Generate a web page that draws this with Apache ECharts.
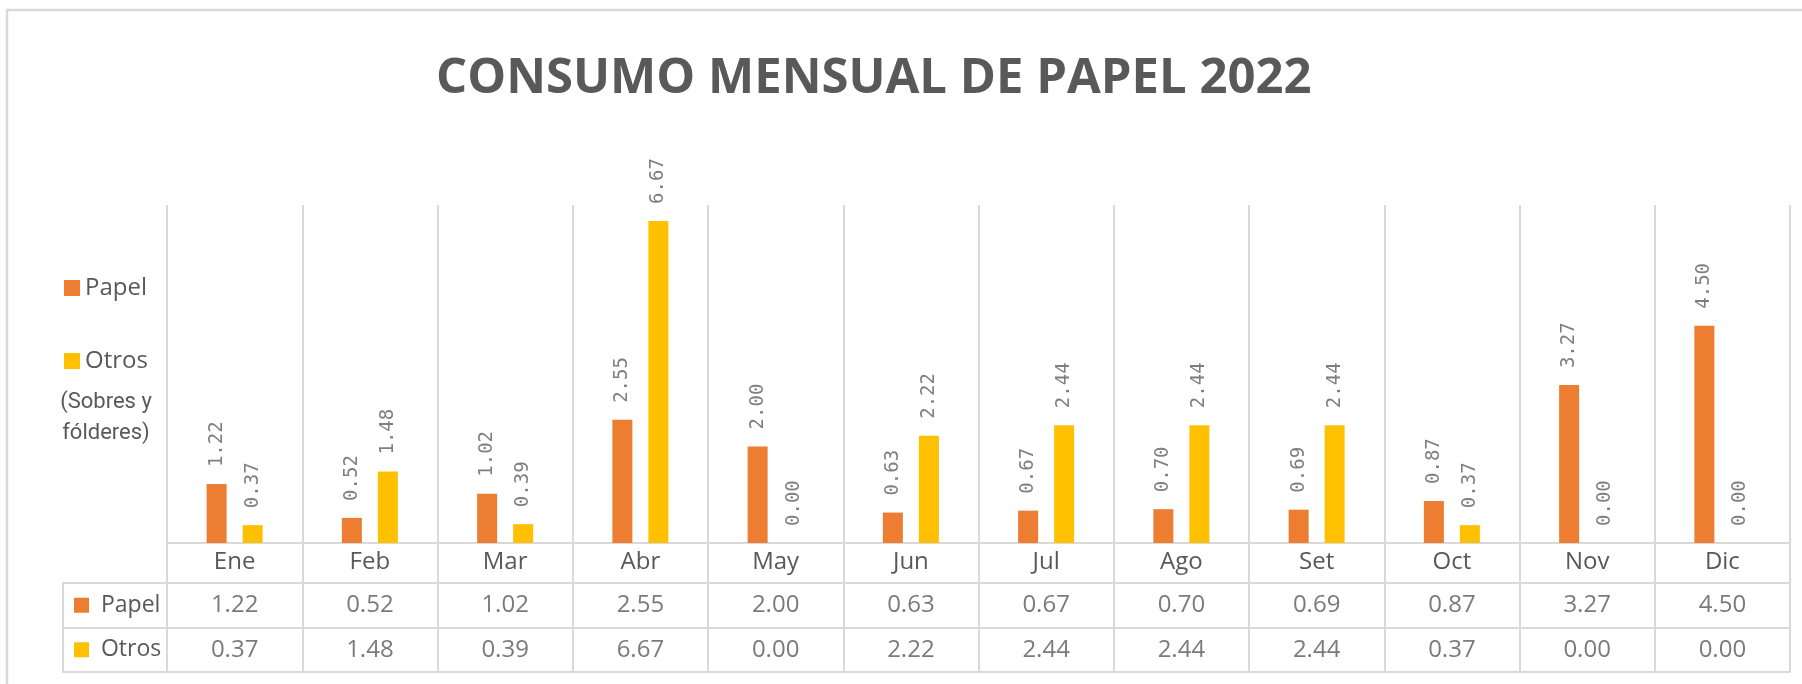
<!DOCTYPE html>
<html>
<head>
<meta charset="utf-8">
<title>Consumo mensual de papel 2022</title>
<script src="https://cdn.jsdelivr.net/npm/echarts@6/dist/echarts.min.js"></script>
<style>
  html, body { margin: 0; padding: 0; background: #fff; }
  #chart { width: 1802px; height: 684px; }
</style>
</head>
<body>
<div id="chart"></div>
<script>
const meses = ["Ene", "Feb", "Mar", "Abr", "May", "Jun", "Jul", "Ago", "Set", "Oct", "Nov", "Dic"];
const papel = [1.22, 0.52, 1.02, 2.55, 2.0, 0.63, 0.67, 0.7, 0.69, 0.87, 3.27, 4.5];
const otros = [0.37, 1.48, 0.39, 6.67, 0.0, 2.22, 2.44, 2.44, 2.44, 0.37, 0.0, 0.0];
const filas = ["Papel", "Otros"];

const GRIS = "#d9d9d9";
const TEXTO = "#595959";
const NARANJA = "#ED7D31";
const AMARILLO = "#FFC000";

const chart = echarts.init(document.getElementById("chart"));

const etiquetaBarra = {
  show: true,
  position: "top",
  rotate: 90,
  align: "left",
  verticalAlign: "middle",
  distance: 17,
  fontFamily: "DejaVu Sans Mono",
  fontSize: 19,
  color: "#7f7f7f",
  formatter: (p) => p.value.toFixed(2),
};

// filas de la tabla: [mes, fila, valor]
const celdas = [];
meses.forEach((m, i) => {
  celdas.push([i, "Papel", papel[i]]);
  celdas.push([i, "Otros", otros[i]]);
});

chart.setOption({
  animation: false,
  title: {
    text: "CONSUMO MENSUAL DE PAPEL 2022",
    left: 436,
    top: 55,
    padding: 0,
    textStyle: {
      fontFamily: "Open Sans",
      fontWeight: "bold",
      fontSize: 49,
      color: TEXTO,
    },
  },
  legend: {
    data: ["Papel", "Otros"],
    orient: "vertical",
    left: 64,
    top: 276,
    padding: 0,
    itemWidth: 16,
    itemHeight: 16,
    itemGap: 49,
    icon: "rect",
    selectedMode: false,
    textStyle: { fontFamily: "Open Sans", fontSize: 24, color: TEXTO },
  },
  graphic: [
    {
      type: "rect",
      z: -1,
      shape: { x: 7, y: 10, width: 1900, height: 800 },
      style: { fill: "none", stroke: GRIS, lineWidth: 2.5 },
    },
    {
      type: "text",
      x: 106,
      y: 402,
      style: {
        text: "(Sobres y",
        fontFamily: "Roboto",
        fontSize: 22,
        fill: TEXTO,
        align: "center",
        verticalAlign: "middle",
      },
    },
    {
      type: "text",
      x: 106,
      y: 433,
      style: {
        text: "fólderes)",
        fontFamily: "Roboto",
        fontSize: 22,
        fill: TEXTO,
        align: "center",
        verticalAlign: "middle",
      },
    },
  ],
  grid: [
    { left: 167, right: 12, top: 205, bottom: 141 },
    { left: 167, right: 12, top: 583, bottom: 12 },
  ],
  xAxis: [
    {
      type: "category",
      gridIndex: 0,
      data: meses,
      axisLine: { lineStyle: { color: GRIS, width: 2 } },
      axisTick: { show: true, length: 40, interval: 0, lineStyle: { color: GRIS, width: 2 } },
      axisLabel: { margin: 7, interval: 0, fontFamily: "Open Sans", fontSize: 24, color: TEXTO },
      splitLine: { show: true, interval: 0, lineStyle: { color: GRIS, width: 2 } },
    },
    {
      type: "category",
      gridIndex: 1,
      data: meses,
      axisLine: { show: true, lineStyle: { color: GRIS, width: 2 } },
      axisTick: { show: false },
      axisLabel: { show: false },
      splitLine: { show: true, interval: 0, lineStyle: { color: GRIS, width: 2 } },
    },
  ],
  yAxis: [
    { type: "value", gridIndex: 0, min: 0, max: 7, show: false },
    {
      type: "category",
      gridIndex: 1,
      data: filas,
      inverse: true,
      offset: 104,
      axisLine: { show: true, lineStyle: { color: GRIS, width: 2 } },
      axisTick: { show: true, inside: true, length: 104, lineStyle: { color: GRIS, width: 2 } },
      splitLine: { show: true, lineStyle: { color: GRIS, width: 2 } },
      axisLabel: {
        inside: true,
        margin: 11,
        fontFamily: "Open Sans",
        fontSize: 23,
        color: TEXTO,
        formatter: (v) => (v === "Papel" ? "{p|}  " : "{o|}  ") + v,
        rich: {
          p: { width: 15, height: 15, backgroundColor: NARANJA },
          o: { width: 15, height: 15, backgroundColor: AMARILLO },
        },
      },
    },
  ],
  series: [
    {
      name: "Papel",
      type: "bar",
      xAxisIndex: 0,
      yAxisIndex: 0,
      data: papel,
      barWidth: 20,
      barGap: "80%",
      itemStyle: { color: NARANJA },
      label: etiquetaBarra,
    },
    {
      name: "Otros",
      type: "bar",
      xAxisIndex: 0,
      yAxisIndex: 0,
      data: otros,
      barWidth: 20,
      itemStyle: { color: AMARILLO },
      label: etiquetaBarra,
    },
    {
      name: "tabla",
      type: "scatter",
      xAxisIndex: 1,
      yAxisIndex: 1,
      data: celdas,
      symbolSize: 1,
      itemStyle: { color: "rgba(0,0,0,0)" },
      label: {
        show: true,
        position: "inside",
        fontFamily: "Open Sans",
        fontSize: 24,
        color: TEXTO,
        formatter: (p) => p.value[2].toFixed(2),
      },
    },
  ],
});
</script>
</body>
</html>
